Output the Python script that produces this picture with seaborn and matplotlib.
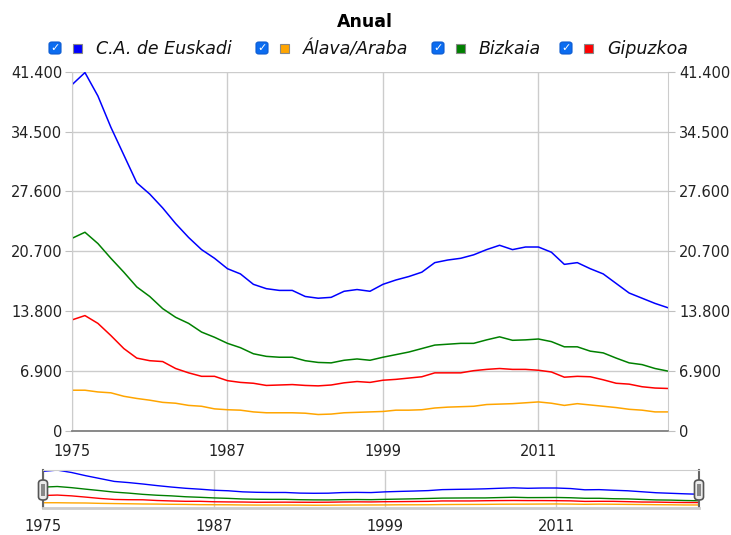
import matplotlib.pyplot as plt
import pandas as pd
import seaborn as sns
from matplotlib.patches import FancyBboxPatch, Rectangle
from matplotlib.ticker import FuncFormatter

years = list(range(1975, 2022))
euskadi = [39900, 41300, 38600, 35000, 31800, 28600, 27300, 25700, 23900, 22300,
           20900, 19900, 18700, 18100, 16900, 16400, 16200, 16200, 15500, 15300,
           15400, 16100, 16300, 16100, 16900, 17400, 17800, 18300, 19400, 19700,
           19900, 20300, 20900, 21400, 20900, 21200, 21200, 20600, 19200, 19400,
           18700, 18100, 17000, 15900, 15300, 14700, 14200]
alava = [4700, 4700, 4500, 4400, 4000, 3750, 3550, 3300, 3200, 2950,
         2850, 2550, 2450, 2400, 2200, 2100, 2100, 2100, 2050, 1900,
         1950, 2100, 2150, 2200, 2250, 2400, 2400, 2450, 2650, 2750,
         2800, 2850, 3050, 3100, 3150, 3250, 3350, 3200, 2950, 3150,
         3000, 2850, 2700, 2500, 2400, 2200, 2200]
bizkaia = [22200, 22900, 21600, 19900, 18300, 16600, 15500, 14100, 13100, 12400,
           11400, 10800, 10100, 9600, 8900, 8600, 8500, 8500, 8100, 7900,
           7850, 8150, 8300, 8150, 8500, 8800, 9100, 9500, 9900, 10000,
           10100, 10100, 10500, 10850, 10450, 10500, 10600, 10300, 9700, 9700,
           9200, 9000, 8400, 7850, 7650, 7200, 6900]
gipuzkoa = [12800, 13300, 12400, 11000, 9500, 8400, 8100, 8000, 7200, 6700,
            6300, 6300, 5800, 5600, 5500, 5250, 5300, 5350, 5250, 5200,
            5300, 5550, 5700, 5600, 5850, 5950, 6100, 6250, 6700, 6700,
            6700, 6950, 7100, 7200, 7100, 7100, 7000, 6800, 6200, 6300,
            6250, 5900, 5500, 5400, 5100, 4950, 4900]

series_names = ["C.A. de Euskadi", "Álava/Araba", "Bizkaia", "Gipuzkoa"]
series_colors = ["#0000ff", "#ffa500", "#008000", "#ff0000"]
y_ticks = [0, 6900, 13800, 20700, 27600, 34500, 41400]
x_ticks = [1975, 1987, 1999, 2011]

df = pd.DataFrame({
    "year": years * 4,
    "value": euskadi + alava + bizkaia + gipuzkoa,
    "serie": [n for n in series_names for _ in years],
})
palette = dict(zip(series_names, series_colors))

sns.set_style("white")
plt.rcParams['font.family'] = ['DejaVu Sans']

W, H = 731, 535
fig = plt.figure(figsize=(W / 100, H / 100), dpi=100)


def fx(px):
    return px / W


def fy(py):
    return 1 - py / H


def thousands(v, pos):
    return f"{int(round(v)):,}".replace(",", ".")


# main chart
ax = fig.add_axes([fx(72), fy(431), fx(668) - fx(72), fy(71.7) - fy(431)])
sns.lineplot(data=df, x="year", y="value", hue="serie", hue_order=series_names,
             palette=palette, linewidth=1.1, legend=False, ax=ax)
ax.set_xlim(1975, 2021)
ax.set_ylim(0, 41400)
ax.set_xticks(x_ticks)
ax.set_yticks(y_ticks)
ax.yaxis.set_major_formatter(FuncFormatter(thousands))
ax.set_xlabel("")
ax.set_ylabel("")
ax.grid(True, color="#cccccc", linewidth=1)
ax.spines["top"].set_visible(False)
ax.spines["left"].set_color("#cccccc")
ax.spines["right"].set_color("#cccccc")
ax.spines["bottom"].set_color("#808080")
ax.spines["bottom"].set_linewidth(1.3)
ax.tick_params(axis="both", direction="out", length=5, color="#c0c0c0",
               labelsize=10.5, labelcolor="#222222", pad=2)
ax.tick_params(axis="x", pad=4)

ax2 = ax.twinx()
ax2.set_ylim(0, 41400)
ax2.set_yticks(y_ticks)
ax2.yaxis.set_major_formatter(FuncFormatter(thousands))
for s in ax2.spines.values():
    s.set_visible(False)
ax2.tick_params(axis="y", direction="out", length=5, color="#c0c0c0",
                labelsize=10.5, labelcolor="#222222", pad=3)

# navigator
nav = fig.add_axes([fx(43), fy(508), fx(699) - fx(43), fy(470) - fy(508)])
sns.lineplot(data=df, x="year", y="value", hue="serie", hue_order=series_names,
             palette=palette, linewidth=1.0, legend=False, ax=nav)
nav.set_xlim(1975, 2021)
nav.set_ylim(-1200, 41400)
nav.set_xticks(x_ticks)
nav.set_yticks([])
nav.set_xlabel("")
nav.set_ylabel("")
nav.grid(True, axis="x", color="#cccccc", linewidth=1)
nav.spines["top"].set_color("#cccccc")
nav.spines["bottom"].set_color("#cccccc")
nav.spines["bottom"].set_linewidth(2)
nav.spines["left"].set_color("#666666")
nav.spines["right"].set_color("#666666")
nav.spines["left"].set_linewidth(1.5)
nav.spines["right"].set_linewidth(1.5)
nav.tick_params(axis="x", direction="out", length=4, color="#999999",
                labelsize=10.5, labelcolor="#222222", pad=4)

for hx in [43, 699]:
    fig.patches.append(FancyBboxPatch((fx(hx - 4.5), fy(500)), fx(9), fy(480) - fy(500),
                                      boxstyle="round,pad=0,rounding_size=0.006",
                                      transform=fig.transFigure, facecolor="#ebebeb",
                                      edgecolor="#555555", linewidth=1.2, zorder=10))
    fig.patches.append(Rectangle((fx(hx - 2), fy(496)), fx(4), fy(484) - fy(496),
                                 transform=fig.transFigure, facecolor="#888888",
                                 edgecolor="none", zorder=11))

# title and legend
fig.text(fx(365), fy(22), "Anual", ha="center", va="center", fontsize=12.5,
         fontweight="bold", color="#000000")

legend_x = [55, 262, 438, 566]
for lx, name, color in zip(legend_x, series_names, series_colors):
    fig.patches.append(FancyBboxPatch((fx(lx - 6), fy(54)), fx(12), fy(42) - fy(54),
                                      boxstyle="round,pad=0,rounding_size=0.004",
                                      transform=fig.transFigure, facecolor="#0b6cf0",
                                      edgecolor="#0b5ad0", linewidth=0.8))
    fig.text(fx(lx), fy(48.5), "✓", ha="center", va="center", fontsize=8,
             fontweight="bold", color="white")
    fig.patches.append(Rectangle((fx(lx + 18), fy(52.5)), fx(9), fy(43.5) - fy(52.5),
                                 transform=fig.transFigure, facecolor=color,
                                 edgecolor="#888888", linewidth=0.8))
    fig.text(fx(lx + 41), fy(49), name, ha="left", va="center", fontsize=12.5,
             fontstyle="italic", color="#111111")

fig.savefig("out.png", dpi=100)
